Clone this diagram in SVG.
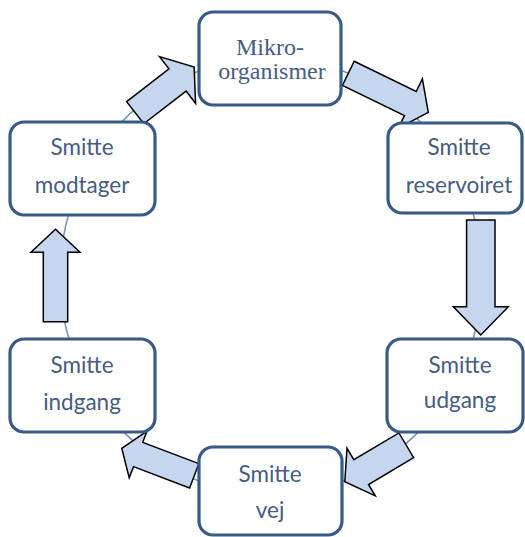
<svg xmlns="http://www.w3.org/2000/svg" width="525" height="537" viewBox="0 0 525 537">
<style>
.box{fill:#ffffff;stroke:#375a88;stroke-width:3.2}
.arr{fill:#c6d6ee;stroke:#000000;stroke-width:1.5;stroke-linejoin:miter}
.ring{fill:none;stroke:#7d94b6;stroke-width:1.6}
.t{font-family:Lato,"Liberation Sans",sans-serif;font-size:22.5px;fill:#465c80;text-anchor:middle}
.ts{font-family:"Liberation Serif","DejaVu Serif",serif;font-size:24px;fill:#465c80;text-anchor:middle}
</style>
<rect width="525" height="537" fill="#ffffff"/>
<g id="connectors">
<ellipse class="ring" cx="271" cy="276" rx="211" ry="218"/>
<polygon class="arr" transform="translate(135.2,112.7) rotate(-37.7)" points="0,-14 53.5,-14 53.5,-29.5 74.5,0 53.5,29.5 53.5,14 0,14"/>
<polygon class="arr" transform="translate(348.3,73.3) rotate(26)" points="0,-13.4 69,-13.4 69,-27.5 89,0 69,27.5 69,13.4 0,13.4"/>
<polygon class="arr" transform="translate(480.8,220) rotate(90)" points="0,-14.2 86.7,-14.2 86.7,-27.5 115,0 86.7,27.5 86.7,14.2 0,14.2"/>
<polygon class="arr" transform="translate(406.3,445.3) rotate(149.3)" points="0,-14.4 52.5,-14.4 52.5,-27.7 71.5,0 52.5,27.7 52.5,14.4 0,14.4"/>
<polygon class="arr" transform="translate(194.2,475.8) rotate(200.8)" points="0,-13 60,-13 60,-25 77.5,0 60,25 60,13 0,13"/>
<polygon class="arr" transform="translate(55.5,321.7) rotate(-90)" points="0,-12.2 69.4,-12.2 69.4,-24.5 92.4,0 69.4,24.5 69.4,12.2 0,12.2"/>
</g>
<g id="mikroorganismer">
<rect class="box" x="199" y="12" width="142" height="93" rx="14"/>
<text class="ts" x="270" y="55">Mikro-</text>
<text class="ts" x="272" y="79">organismer</text>
</g>
<g id="reservoiret">
<rect class="box" x="388" y="123" width="134" height="90" rx="14"/>
<text class="t" x="459" y="155">Smitte</text>
<text class="t" x="459" y="193">reservoiret</text>
</g>
<g id="udgang">
<rect class="box" x="387" y="339" width="136" height="93" rx="14"/>
<text class="t" x="460" y="373">Smitte</text>
<text class="t" x="460" y="408">udgang</text>
</g>
<g id="vej">
<rect class="box" x="199" y="447" width="143" height="88" rx="14"/>
<text class="t" x="270" y="482">Smitte</text>
<text class="t" x="270" y="518">vej</text>
</g>
<g id="indgang">
<rect class="box" x="10" y="339" width="145" height="93" rx="14"/>
<text class="t" x="82" y="373">Smitte</text>
<text class="t" x="82" y="410">indgang</text>
</g>
<g id="modtager">
<rect class="box" x="10" y="122" width="145" height="93" rx="14"/>
<text class="t" x="82" y="155">Smitte</text>
<text class="t" x="82" y="193">modtager</text>
</g>
</svg>
